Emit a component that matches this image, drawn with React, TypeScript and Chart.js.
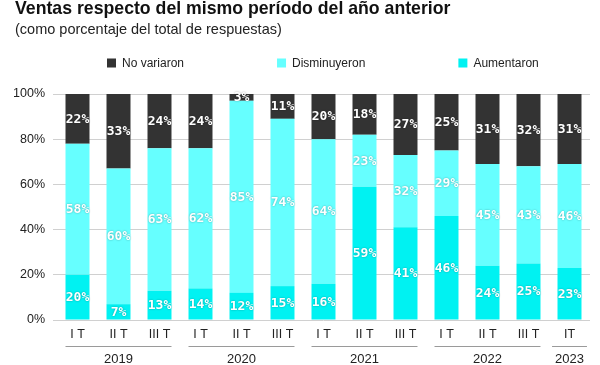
import { useEffect, useRef } from "react";
import { Chart, registerables } from "chart.js";

Chart.register(...registerables);

const TITLE = "Ventas respecto del mismo período del año anterior";
const SUBTITLE = "(como porcentaje del total de respuestas)";

const quarters = ["I T", "II T", "III T", "I T", "II T", "III T", "I T", "II T", "III T", "I T", "II T", "III T", "IT"];
const years = ["2019", "2020", "2021", "2022", "2023"];
const yearSpans = [3, 3, 3, 3, 1];

const aumentaron = [20, 7, 13, 14, 12, 15, 16, 59, 41, 46, 24, 25, 23];
const disminuyeron = [58, 60, 63, 62, 85, 74, 64, 23, 32, 29, 45, 43, 46];
const noVariaron = [22, 33, 24, 24, 3, 11, 20, 18, 27, 25, 31, 32, 31];

const seriesNames = ["Aumentaron", "Disminuyeron", "No variaron"];
const seriesColors = ["#00F2F2", "#66FFFF", "#333333"];
const yTicks = [0, 20, 40, 60, 80, 100];

const SANS = "'Liberation Sans', Arial, sans-serif";

const decorPlugin = {
  id: "decor",
  afterDraw(chart: any) {
    const ctx = chart.ctx as CanvasRenderingContext2D;
    const area = chart.chartArea;
    ctx.save();

    // Title & subtitle
    ctx.textAlign = "left";
    ctx.textBaseline = "alphabetic";
    ctx.fillStyle = "#111111";
    ctx.font = `bold 17.7px ${SANS}`;
    ctx.fillText(TITLE, 15, 14);
    ctx.fillStyle = "#222222";
    ctx.font = `14.5px ${SANS}`;
    ctx.fillText(SUBTITLE, 15, 34);

    // Legend (reverse order: top of stack first)
    ctx.font = `12px ${SANS}`;
    ctx.textBaseline = "middle";
    const legendY = area.top - 31;
    let lx = 107;
    const dsets = chart.data.datasets;
    for (let k = dsets.length - 1; k >= 0; k--) {
      const ds = dsets[k];
      ctx.fillStyle = ds.backgroundColor;
      ctx.fillRect(lx, legendY - 4.5, 9, 9);
      ctx.fillStyle = "#222222";
      ctx.fillText(ds.label, lx + 15, legendY + 0.5);
      lx += 15 + ctx.measureText(ds.label).width + 93;
    }

    // Data labels
    ctx.font = "bold 13px 'DejaVu Sans Mono', monospace";
    ctx.textAlign = "center";
    ctx.textBaseline = "middle";
    ctx.fillStyle = "#ffffff";
    ctx.shadowColor = "rgba(0,0,0,0.35)";
    ctx.shadowBlur = 2;
    dsets.forEach((ds: any, di: number) => {
      const meta = chart.getDatasetMeta(di);
      meta.data.forEach((bar: any, i: number) => {
        const v = ds.data[i];
        const p = bar.getProps(["x", "y", "base"], true);
        ctx.fillText(`${v}%`, p.x, (p.y + p.base) / 2 + 0.5);
      });
    });
    ctx.shadowColor = "transparent";
    ctx.shadowBlur = 0;

    // Year groups
    ctx.font = `13px ${SANS}`;
    ctx.fillStyle = "#222222";
    const bars = chart.getDatasetMeta(0).data;
    let idx = 0;
    years.forEach((yr, g) => {
      const n = yearSpans[g];
      const first = bars[idx];
      const last = bars[idx + n - 1];
      let left = first.x - first.width / 2;
      let right = last.x + last.width / 2;
      const cx = (left + right) / 2;
      const tw = ctx.measureText(yr).width + 6;
      if (right - left < tw) {
        left = cx - tw / 2;
        right = cx + tw / 2;
      }
      ctx.strokeStyle = "#9a9a9a";
      ctx.lineWidth = 1;
      ctx.beginPath();
      ctx.moveTo(left, area.bottom + 26.5);
      ctx.lineTo(right, area.bottom + 26.5);
      ctx.stroke();
      ctx.fillText(yr, cx, area.bottom + 39);
      idx += n;
    });

    ctx.restore();
  },
};

export default function App() {
  const ref = useRef<HTMLCanvasElement | null>(null);

  useEffect(() => {
    if (!ref.current) return;
    const values = [aumentaron, disminuyeron, noVariaron];
    const chart = new Chart(ref.current, {
      type: "bar",
      data: {
        labels: quarters,
        datasets: values.map((d, i) => ({
          label: seriesNames[i],
          data: d,
          backgroundColor: seriesColors[i],
          borderWidth: 0,
          barPercentage: 0.585,
          categoryPercentage: 1,
        })),
      },
      options: {
        animation: false,
        responsive: true,
        maintainAspectRatio: false,
        layout: { padding: { top: 94, left: 14, right: 10, bottom: 0 } },
        plugins: {
          legend: { display: false },
          title: { display: false },
          tooltip: { enabled: false },
        },
        scales: {
          x: {
            stacked: true,
            grid: { display: false, drawTicks: false },
            border: { display: false },
            ticks: {
              color: "#222222",
              font: { family: SANS, size: 12.5 },
              padding: 7,
              maxRotation: 0,
              autoSkip: false,
            },
            afterFit: (s: any) => {
              s.height = 45;
            },
          },
          y: {
            stacked: true,
            min: 0,
            max: 100,
            afterBuildTicks: (s: any) => {
              s.ticks = yTicks.map((v) => ({ value: v }));
            },
            ticks: {
              color: "#222222",
              font: { family: SANS, size: 12.5 },
              padding: 8,
              callback: (v: any) => `${v}%`,
            },
            grid: { color: "#d0d0d0", drawTicks: true, tickLength: 4 },
            border: { display: false },
            afterFit: (s: any) => {
              s.width = 43;
            },
          },
        },
      },
      plugins: [decorPlugin],
    });
    return () => chart.destroy();
  }, []);

  return (
    <div style={{ position: "absolute", left: 0, top: 0, width: 600, height: 365, background: "#ffffff" }}>
      <canvas ref={ref} />
    </div>
  );
}
